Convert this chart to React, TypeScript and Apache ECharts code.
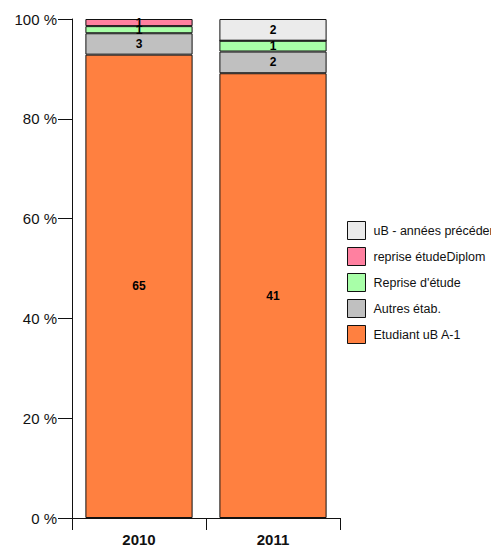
import React, { useEffect, useRef } from "react";
import * as echarts from "echarts";

const categories = ["2010", "2011"];
const seriesNames = ["Etudiant uB A-1", "Autres étab.", "Reprise d'étude", "reprise étudeDiplom", "uB - années précédentes"];
const etudiant = [65, 41];
const autres = [3, 2];
const reprise = [1, 1];
const repriseDiplom = [1, 0];
const ubAnnees = [0, 2];
const colors = ["#FF8040", "#C0C0C0", "#A8FFA8", "#FF80A0", "#EBEBEB"];
const yTicks = [0, 20, 40, 60, 80, 100];

export default function App() {
  const ref = useRef<HTMLDivElement>(null);
  useEffect(() => {
    if (!ref.current) return;
    const chart = echarts.init(ref.current, null, { renderer: "svg" });
    const all = [etudiant, autres, reprise, repriseDiplom, ubAnnees];
    const totals = categories.map((_, i) => all.reduce((s, a) => s + a[i], 0));
    const series = all.map((arr, k) => ({
      name: seriesNames[k],
      type: "bar",
      stack: "total",
      barWidth: "80%",
      data: arr.map((v, i) => ({ value: (v / totals[i]) * 100, count: v })),
      itemStyle: { color: colors[k], borderColor: "#111", borderWidth: 1 },
      label: {
        show: true,
        position: "inside",
        color: "#000",
        fontWeight: "bold",
        fontSize: 12,
        fontFamily: "Liberation Sans",
        formatter: (p: any) => (p.data.count ? String(p.data.count) : ""),
      },
    }));
    chart.setOption({
      animation: false,
      textStyle: { fontFamily: "Liberation Sans" },
      grid: { left: 72, right: 151, top: 19, bottom: 27 },
      legend: {
        orient: "vertical",
        left: 347,
        top: 221,
        padding: 0,
        icon: "rect",
        itemWidth: 18,
        itemHeight: 18,
        itemGap: 7,
        data: [...seriesNames].reverse(),
        itemStyle: { borderColor: "#111", borderWidth: 1 },
        textStyle: { fontSize: 12.5, color: "#111", fontFamily: "Liberation Sans", padding: [0, 0, 0, 3] },
      },
      xAxis: {
        type: "category",
        data: categories,
        axisLine: { lineStyle: { color: "#111", width: 1 } },
        axisTick: { show: true, length: 12, lineStyle: { color: "#111" } },
        axisLabel: { color: "#111", fontWeight: "bold", fontSize: 15, margin: 14 },
      },
      yAxis: {
        type: "value",
        min: 0,
        max: 100,
        interval: 20,
        splitLine: { show: false },
        axisLine: { show: true, lineStyle: { color: "#111", width: 1 } },
        axisTick: { show: true, length: 14, lineStyle: { color: "#111" } },
        axisLabel: {
          color: "#111",
          fontSize: 15,
          margin: 15,
          formatter: (v: number) => (yTicks.includes(v) ? `${v} %` : ""),
        },
      },
      series,
    });
    return () => chart.dispose();
  }, []);
  return <div ref={ref} style={{ width: 491, height: 547, position: "absolute", left: 0, top: 0 }} />;
}
